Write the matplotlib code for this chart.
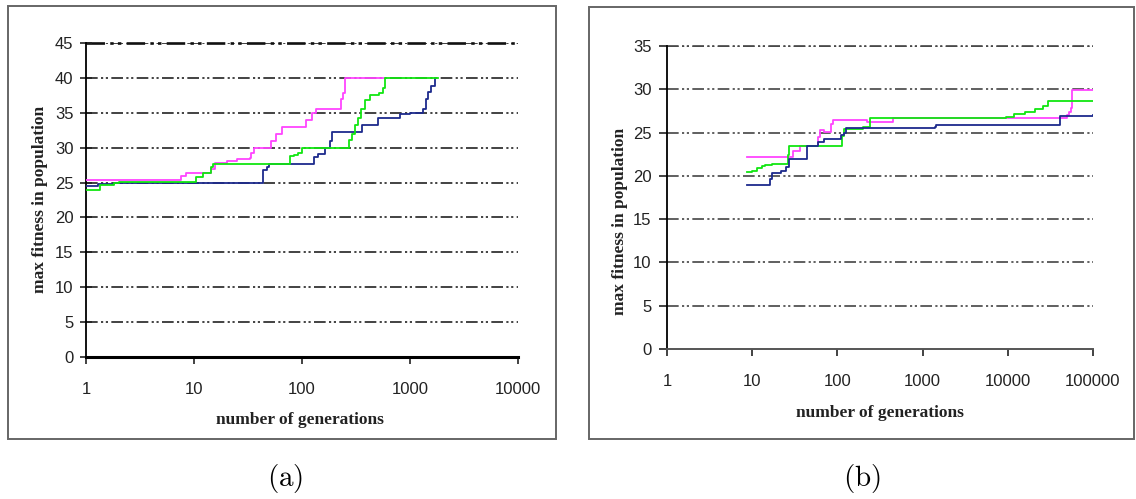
import numpy as np
import matplotlib.pyplot as plt
from matplotlib.patches import Rectangle

plt.rcParams['mathtext.fontset'] = 'cm'

# (a) runs: generation, max fitness
a_mag_x = [1, 7.2, 7.6, 8.5, 14, 14.5, 15.5, 20, 25, 33, 34, 36, 49, 52, 57, 65, 102, 110, 125, 136, 217, 228, 240, 250, 567]
a_mag_y = [25.4, 25.4, 25.9, 26.3, 26.3, 27.0, 27.8, 28.1, 28.4, 28.5, 29.2, 29.9, 29.9, 31.0, 32.0, 33.0, 33.0, 34.0, 35.0, 35.5, 35.5, 37.0, 37.8, 40.0, 40.0]

a_grn_x = [1, 1.35, 1.8, 2.0, 9.5, 10.5, 12, 14, 14.5, 15, 75, 77, 85, 92, 99, 259, 270, 290, 310, 330, 355, 380, 430, 520, 560, 585, 1830]
a_grn_y = [23.9, 24.6, 24.9, 25.1, 25.1, 25.8, 26.4, 26.4, 27.2, 27.7, 27.7, 28.8, 29.0, 29.2, 30.0, 30.0, 31.1, 32.0, 33.2, 34.3, 35.5, 36.8, 37.5, 37.8, 38.5, 40.0, 40.0]

a_blu_x = [1, 1.25, 1.3, 1.8, 42, 44, 47, 50, 123, 128, 140, 165, 180, 190, 344, 360, 500, 510, 800, 1000, 1320, 1400, 1480, 1580, 1700]
a_blu_y = [24.5, 24.5, 24.8, 25.0, 25.0, 26.8, 27.3, 27.7, 27.7, 28.7, 29.1, 30.0, 31.0, 32.2, 32.2, 33.2, 33.2, 34.3, 34.8, 35.0, 35.5, 37.0, 38.0, 38.8, 40.0]

# (b) runs
b_mag_x = [8.6, 25.4, 30, 36, 57, 60, 62, 70, 85, 90, 200, 220, 453, 6800, 49000, 52000, 56000, 57000, 100000]
b_mag_y = [22.2, 22.2, 22.9, 23.4, 23.4, 24.5, 25.3, 25.1, 26.0, 26.4, 26.4, 26.2, 26.7, 26.7, 27.0, 27.4, 27.8, 29.9, 29.9]

b_grn_x = [8.6, 10, 11.5, 13, 14, 17, 25.4, 26, 27, 60, 107, 112, 120, 200, 240, 6800, 9500, 12000, 16000, 21000, 26000, 29900, 100000]
b_grn_y = [20.4, 20.6, 20.9, 21.1, 21.2, 21.4, 21.4, 22.4, 23.4, 23.5, 23.5, 24.6, 25.4, 25.6, 26.7, 26.7, 26.8, 27.1, 27.4, 27.7, 28.1, 28.6, 28.6]

b_blu_x = [8.6, 14.8, 16, 17, 22, 25, 27, 41.7, 44, 55, 60, 70, 95, 110, 120, 128, 1400, 1450, 39200, 40500, 100000]
b_blu_y = [18.9, 18.9, 19.6, 20.3, 20.6, 21.0, 22.0, 22.0, 23.4, 23.4, 23.9, 24.3, 24.3, 24.7, 24.9, 25.5, 25.6, 25.9, 25.9, 26.9, 27.0]

a_yticks = np.arange(0, 50, 5)
b_yticks = np.arange(0, 40, 5)
a_xticks = [1, 10, 100, 1000, 10000]
b_xticks = [1, 10, 100, 1000, 10000, 100000]

MAG = '#ff44ff'
GRN = '#11e611'
BLU = '#1c2a8c'
DASH = (7, 2, 1.3, 1.6, 1.3, 2)

fig = plt.figure(figsize=(11.36, 4.99), dpi=100)

# panel frames
fig.patches.append(Rectangle((0.007, 0.120), 0.482, 0.868, transform=fig.transFigure,
                             fill=False, ec='#666666', lw=1.4))
fig.patches.append(Rectangle((0.5185, 0.120), 0.4795, 0.866, transform=fig.transFigure,
                             fill=False, ec='#666666', lw=1.4))


def setup(ax, xticks, yticks, gridcol, bottom_lw, bottom_col):
    ax.set_xscale('log')
    ax.set_xlim(xticks[0], xticks[-1])
    ax.set_ylim(yticks[0], yticks[-1])
    for s in ['top', 'right']:
        ax.spines[s].set_visible(False)
    ax.spines['left'].set_linewidth(1.3)
    ax.spines['bottom'].set_linewidth(bottom_lw)
    ax.spines['bottom'].set_color(bottom_col)
    for yv in yticks[1:]:
        ax.axhline(yv, color=gridcol, lw=1.2, dashes=DASH, zorder=1)
    ax.set_xticks(xticks)
    ax.set_xticklabels([str(v) for v in xticks])
    ax.minorticks_off()
    ax.set_yticks(yticks)
    ax.set_yticklabels([str(v) for v in yticks])
    ax.tick_params(axis='x', direction='out', length=5, width=1.2, pad=13, labelsize=12, colors='#222222')
    ax.tick_params(axis='y', length=7, width=1.2, pad=5, labelsize=12, colors='#222222')
    for lab in ax.get_xticklabels() + ax.get_yticklabels():
        lab.set_fontfamily('Liberation Sans')
    ax.patch.set_alpha(0)


ax1 = fig.add_axes([0.0757, 0.2846, 0.3803, 0.6292])
setup(ax1, a_xticks, a_yticks, '#222222', 2.2, 'black')
ax1.tick_params(axis='y', direction='inout', length=8)
ax1.axhline(45, color='#111111', lw=1.9, dashes=DASH, zorder=1, clip_on=False)
ax1.plot(a_mag_x, a_mag_y, color=MAG, lw=1.3, zorder=3, drawstyle='steps-post')
ax1.plot(a_grn_x, a_grn_y, color=GRN, lw=1.3, zorder=4, drawstyle='steps-post')
ax1.plot(a_blu_x, a_blu_y, color=BLU, lw=1.3, zorder=3, drawstyle='steps-post')

ax2 = fig.add_axes([0.5871, 0.3006, 0.375, 0.6072])
setup(ax2, b_xticks, b_yticks, '#444444', 1.4, '#555555')
ax2.tick_params(axis='y', direction='out', length=6)
ax2.axhline(35, color='#444444', lw=1.2, dashes=DASH, zorder=1, clip_on=False)
ax2.plot(b_mag_x, b_mag_y, color=MAG, lw=1.3, zorder=3, drawstyle='steps-post')
ax2.plot(b_grn_x, b_grn_y, color=GRN, lw=1.3, zorder=4, drawstyle='steps-post')
ax2.plot(b_blu_x, b_blu_y, color=BLU, lw=1.3, zorder=5, drawstyle='steps-post')

lab_kw = dict(family='Liberation Serif', weight='bold', fontsize=12.5, color='#222222')
fig.text(0.0352, 0.60, 'max fitness in population', rotation=90, ha='center', va='center', **lab_kw)
fig.text(0.264, 0.158, 'number of generations', ha='center', va='center', **lab_kw)
fig.text(0.5458, 0.556, 'max fitness in population', rotation=90, ha='center', va='center', **lab_kw)
fig.text(0.7746, 0.172, 'number of generations', ha='center', va='center', **lab_kw)

fig.text(0.251, 0.042, r'$\mathrm{(a)}$', ha='center', va='center', fontsize=21)
fig.text(0.759, 0.042, r'$\mathrm{(b)}$', ha='center', va='center', fontsize=21)

fig.savefig('out.png', dpi=100)
